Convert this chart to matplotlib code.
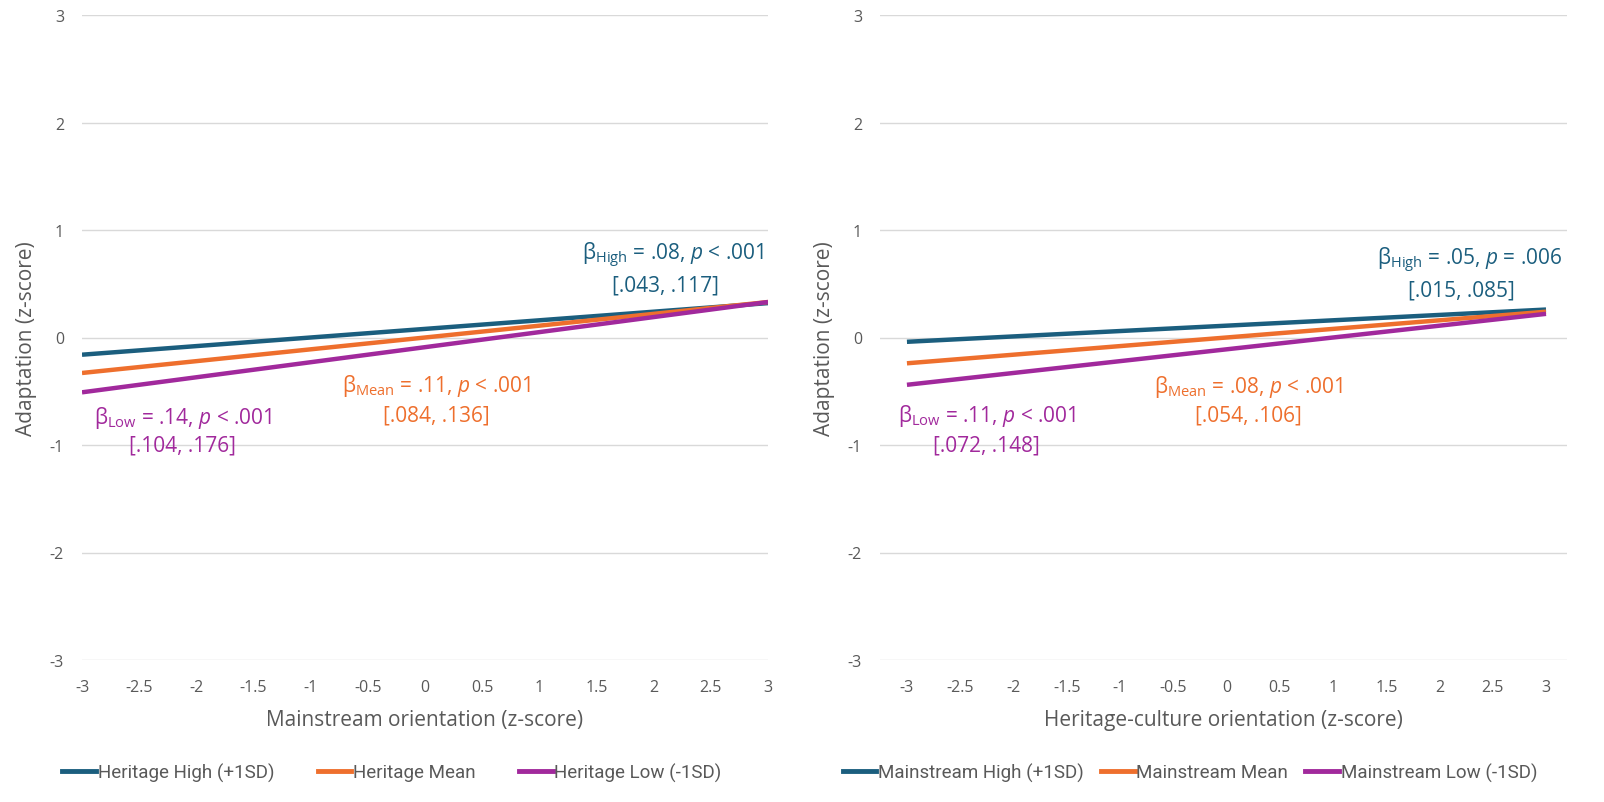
import matplotlib
matplotlib.use("Agg")
import matplotlib.pyplot as plt
from matplotlib.lines import Line2D
from matplotlib import font_manager

plt.rcParams['font.family'] = ['Open Sans', 'DejaVu Sans']
plt.rcParams['mathtext.fontset'] = 'custom'
plt.rcParams['mathtext.rm'] = 'Open Sans'
plt.rcParams['mathtext.it'] = 'Open Sans:italic'

# ---- data ----
x_ends = [-3, 3]
left_high = [-0.16, 0.32]
left_mean = [-0.33, 0.33]
left_low = [-0.51, 0.33]
right_high = [-0.04, 0.26]
right_mean = [-0.24, 0.24]
right_low = [-0.44, 0.22]

xticks = [-3, -2.5, -2, -1.5, -1, -0.5, 0, 0.5, 1, 1.5, 2, 2.5, 3]
xticklabels = ['-3', '-2.5', '-2', '-1.5', '-1', '-0.5', '0', '0.5', '1', '1.5', '2', '2.5', '3']
yticks = [-3, -2, -1, 0, 1, 2, 3]
yticklabels = ['-3', '-2', '-1', '0', '1', '2', '3']

left_labels = ['Heritage High (+1SD)', 'Heritage Mean', 'Heritage Low (-1SD)']
right_labels = ['Mainstream High (+1SD)', 'Mainstream Mean', 'Mainstream Low (-1SD)']

left_ann = [r'β$_{\mathrm{High}}$ = .08, $p$ < .001', '[.043, .117]',
            r'β$_{\mathrm{Mean}}$ = .11, $p$ < .001', '[.084, .136]',
            r'β$_{\mathrm{Low}}$ = .14, $p$ < .001', '[.104, .176]']
right_ann = [r'β$_{\mathrm{High}}$ = .05, $p$ = .006', '[.015, .085]',
             r'β$_{\mathrm{Mean}}$ = .08, $p$ < .001', '[.054, .106]',
             r'β$_{\mathrm{Low}}$ = .11, $p$ < .001', '[.072, .148]']

C_HIGH = '#1B5E7E'
C_MEAN = '#EE6F2D'
C_LOW = '#A1299C'
GRID = '#D9D9D9'
TXT = '#595959'

names = {f.name for f in font_manager.fontManager.ttflist}
LEG_FONT = 'Liberation Sans Narrow' if 'Liberation Sans Narrow' in names else 'Roboto'

W, H = 1604, 803
fig = plt.figure(figsize=(W / 100, H / 100), dpi=100)

def px_axes(x0, x1, y0, y1):
    return fig.add_axes([x0 / W, 1 - y1 / H, (x1 - x0) / W, (y1 - y0) / H])

axL = px_axes(82, 768, 16, 661)
axR = px_axes(880, 1567, 16, 661)

def style(ax, xlim, xlabel):
    ax.set_xlim(*xlim)
    ax.set_ylim(-3, 3)
    ax.set_xticks(xticks)
    ax.set_xticklabels(xticklabels)
    ax.set_yticks(yticks)
    ax.set_yticklabels(yticklabels)
    for s in ax.spines.values():
        s.set_visible(False)
    ax.tick_params(length=0, labelsize=11.5, colors=TXT, pad=14)
    ax.tick_params(axis='y', pad=13)
    ax.grid(axis='y', color=GRID, linewidth=1)
    ax.set_axisbelow(True)
    ax.set_xlabel(xlabel, fontsize=15, color=TXT, labelpad=10)
    ax.set_ylabel('Adaptation (z-score)', fontsize=15, color=TXT, labelpad=9)

style(axL, (-3, 3), 'Mainstream orientation (z-score)')
style(axR, (-3.253, 3.197), 'Heritage-culture orientation (z-score)')

for ax, hi, me, lo in [(axL, left_high, left_mean, left_low), (axR, right_high, right_mean, right_low)]:
    ax.plot(x_ends, hi, color=C_HIGH, lw=3.2, solid_capstyle='butt', zorder=3)
    ax.plot(x_ends, me, color=C_MEAN, lw=3.2, solid_capstyle='butt', zorder=3)
    ax.plot(x_ends, lo, color=C_LOW, lw=3.2, solid_capstyle='butt', zorder=4)

fs = 15
def annotate(ax, ann, pos):
    cols = [C_HIGH, C_HIGH, C_MEAN, C_MEAN, C_LOW, C_LOW]
    for t, (x, y, ha), c in zip(ann, pos, cols):
        ax.text(x, y, t, color=c, fontsize=fs, ha=ha, va='center', zorder=5)

annotate(axL, left_ann, [(2.965, 0.77, 'right'), (2.10, 0.49, 'center'),
                          (0.10, -0.44, 'center'), (0.10, -0.72, 'center'),
                          (-2.12, -0.74, 'center'), (-2.12, -1.0, 'center')])
annotate(axR, right_ann, [(3.15, 0.73, 'right'), (2.21, 0.44, 'center'),
                           (0.21, -0.45, 'center'), (0.21, -0.72, 'center'),
                           (-2.25, -0.72, 'center'), (-2.25, -1.0, 'center')])

def legend(labels, cx, colspace):
    handles = [Line2D([0], [0], color=c, lw=3.5) for c in (C_HIGH, C_MEAN, C_LOW)]
    fig.legend(handles, labels, loc='center', bbox_to_anchor=(cx / W, 1 - 773 / H),
               ncol=3, frameon=False, prop={'family': LEG_FONT, 'size': 13.5},
               labelcolor=TXT, handlelength=1.8, handletextpad=0.1, columnspacing=colspace)

legend(left_labels, 392, 2.3)
legend(right_labels, 1190, 0.9)

fig.savefig('out.png', dpi=100)
